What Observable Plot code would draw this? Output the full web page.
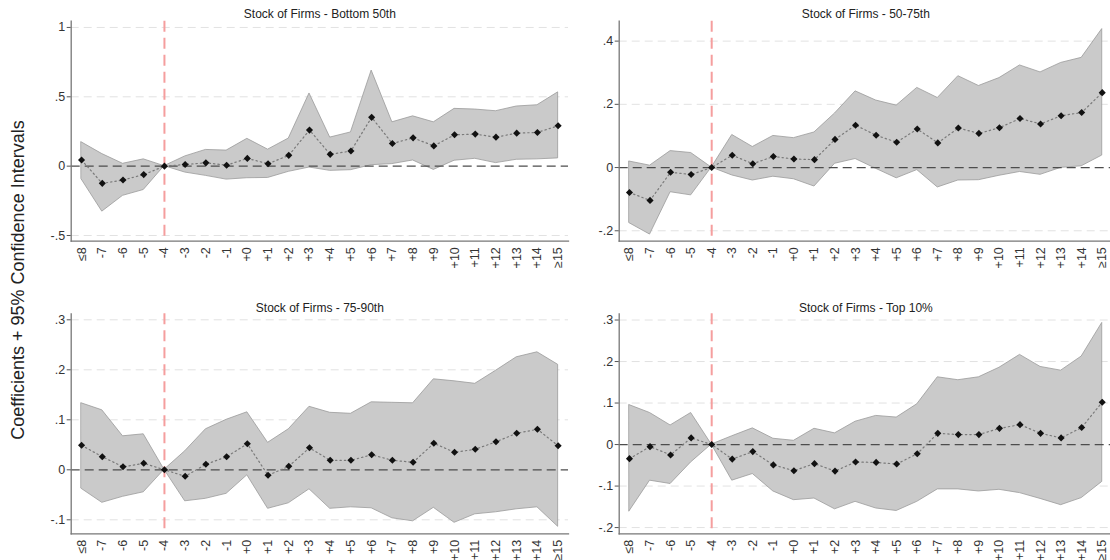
<!DOCTYPE html>
<html>
<head>
<meta charset="utf-8">
<script src="https://cdn.jsdelivr.net/npm/d3@7"></script>
<script src="https://cdn.jsdelivr.net/npm/@observablehq/plot@0.6"></script>
<style>
  html, body { margin: 0; padding: 0; background: white; overflow: hidden; width: 1110px; height: 560px; }
  .pane { position: absolute; z-index: 1; }
  .pane svg { max-width: none !important; display: block; background: transparent !important; }
  #ylab { position: absolute; z-index: 5; left: 18px; top: 280px; transform: translate(-50%, -50%) rotate(-90deg);
    white-space: nowrap; font-family: "Liberation Sans", Arial, sans-serif; font-size: 18px; color: #222; }
</style>
</head>
<body>
<div id="p1" class="pane" style="left:0px;top:0px;width:570px"></div>
<div id="p2" class="pane" style="left:555px;top:0px;width:557px"></div>
<div id="p3" class="pane" style="left:0px;top:280px;width:570px"></div>
<div id="p4" class="pane" style="left:555px;top:280px;width:557px"></div>
<div id="ylab">Coefficients + 95% Confidence Intervals</div>
<script>
const cats = ["≤8","-7","-6","-5","-4","-3","-2","-1","+0","+1","+2","+3","+4","+5","+6","+7","+8","+9","+10","+11","+12","+13","+14","≥15"];
const refCat = "-4";
const titles = ["Stock of Firms - Bottom 50th","Stock of Firms - 50-75th","Stock of Firms - 75-90th","Stock of Firms - Top 10%"];

// Panel 1: Bottom 50th
const p1Coef = [0.044,-0.124,-0.100,-0.061,0,0.012,0.024,0.007,0.056,0.017,0.078,0.260,0.085,0.109,0.352,0.163,0.204,0.146,0.226,0.231,0.209,0.238,0.243,0.291];
const p1Hi   = [0.172,0.087,0.017,0.049,0,0.070,0.117,0.112,0.197,0.119,0.199,0.524,0.206,0.243,0.689,0.316,0.359,0.316,0.413,0.408,0.396,0.430,0.439,0.532];
const p1Lo   = [-0.095,-0.328,-0.214,-0.172,0,-0.046,-0.070,-0.097,-0.087,-0.085,-0.041,-0.010,-0.034,-0.029,0.007,0.015,0.041,-0.027,0.039,0.053,0.022,0.046,0.049,0.056];
const p1Ticks = [1, 0.5, 0, -0.5];

// Panel 2: 50-75th
const p2Coef = [-0.079,-0.104,-0.015,-0.022,0,0.039,0.012,0.035,0.027,0.025,0.089,0.134,0.102,0.080,0.122,0.078,0.125,0.108,0.126,0.155,0.138,0.164,0.174,0.237];
const p2Hi   = [0.019,0.006,0.052,0.046,0,0.103,0.065,0.100,0.093,0.111,0.171,0.241,0.212,0.196,0.252,0.220,0.289,0.258,0.283,0.323,0.301,0.331,0.347,0.438];
const p2Lo   = [-0.176,-0.212,-0.078,-0.088,0,-0.025,-0.041,-0.029,-0.037,-0.060,0.012,0.027,-0.004,-0.034,-0.008,-0.063,-0.041,-0.040,-0.026,-0.014,-0.023,-0.001,0.004,0.038];
const p2Ticks = [0.4, 0.2, 0, -0.2];

// Panel 3: 75-90th
const p3Coef = [0.049,0.026,0.006,0.013,0,-0.013,0.011,0.026,0.052,-0.011,0.007,0.044,0.019,0.019,0.030,0.019,0.015,0.053,0.035,0.041,0.056,0.073,0.081,0.048];
const p3Hi   = [0.133,0.119,0.067,0.071,0,0.037,0.081,0.100,0.115,0.054,0.081,0.126,0.114,0.112,0.135,0.134,0.133,0.181,0.177,0.172,0.198,0.225,0.235,0.210];
const p3Lo   = [-0.038,-0.066,-0.054,-0.045,0,-0.063,-0.058,-0.048,-0.011,-0.078,-0.067,-0.039,-0.078,-0.075,-0.077,-0.097,-0.103,-0.076,-0.106,-0.089,-0.085,-0.079,-0.075,-0.114];
const p3Ticks = [0.3, 0.2, 0.1, 0, -0.1];

// Panel 4: Top 10%
const p4Coef = [-0.034,-0.005,-0.025,0.016,0,-0.035,-0.017,-0.049,-0.063,-0.046,-0.064,-0.042,-0.043,-0.047,-0.022,0.027,0.024,0.024,0.039,0.048,0.027,0.016,0.041,0.102];
const p4Hi   = [0.095,0.076,0.046,0.076,0,0.020,0.039,0.014,0.009,0.038,0.027,0.055,0.069,0.065,0.097,0.162,0.155,0.162,0.185,0.216,0.187,0.178,0.212,0.293];
const p4Lo   = [-0.161,-0.087,-0.095,-0.043,0,-0.087,-0.071,-0.113,-0.134,-0.130,-0.156,-0.138,-0.154,-0.160,-0.138,-0.108,-0.108,-0.113,-0.109,-0.117,-0.131,-0.146,-0.129,-0.090];
const p4Ticks = [0.3, 0.2, 0.1, 0, -0.1, -0.2];

const FONT = '"Liberation Sans", Arial, sans-serif';
const fmt = d => d === 0 ? "0" : (d < 0 ? "-" : "") + String(+Math.abs(d).toFixed(3)).replace(/^0/, "");

function panel({title, coef, lo, hi, domain, ticks, width, ml, mr, mt, mb, height, tdy}) {
  const rows = cats.map((c, i) => ({c, coef: coef[i], lo: lo[i], hi: hi[i]}));
  return Plot.plot({
    width, height, marginLeft: ml, marginRight: mr, marginTop: mt, marginBottom: mb,
    style: {fontFamily: FONT, fontSize: "12.5px", color: "#333", background: "transparent", overflow: "visible"},
    x: {type: "point", domain: cats, padding: 0.5, round: false, label: null},
    y: {domain, label: null},
    marks: [
      Plot.ruleY(ticks.filter(t => t !== 0), {stroke: "#e2e2e2", strokeDasharray: "8,5", strokeWidth: 1}),
      Plot.areaY(rows, {x: "c", y1: "lo", y2: "hi", fill: "#cacaca", stroke: "#9a9a9a", strokeWidth: 0.8}),
      Plot.ruleY([0], {stroke: "#4d4d4d", strokeDasharray: "9,5", strokeWidth: 1.3}),
      Plot.ruleX([refCat], {stroke: "#f59e9e", strokeWidth: 2, strokeDasharray: "11,6"}),
      Plot.lineY(rows, {x: "c", y: "coef", stroke: "#7a7a7a", strokeDasharray: "1.4,3", strokeWidth: 1.2}),
      Plot.dot(rows, {x: "c", y: "coef", symbol: "diamond2", r: 3.2, fill: "#111", stroke: "none"}),
      Plot.frame({anchor: "left", stroke: "#777", strokeWidth: 1.3}),
      Plot.frame({anchor: "bottom", stroke: "#777", strokeWidth: 1.3}),
      Plot.axisY({ticks, tickFormat: fmt, tickSize: 4, tickPadding: 2, stroke: "#555", fill: "#333", label: null, fontSize: 12.5}),
      Plot.axisX({tickRotate: -90, tickSize: 0, tickPadding: 6, fill: "#333", label: null, fontSize: 12.5}),
      Plot.text([title], {frameAnchor: "top", dy: tdy, lineAnchor: "middle", fontSize: 12, fill: "#222"})
    ]
  });
}

document.getElementById("p1").append(panel({title: titles[0], coef: p1Coef, lo: p1Lo, hi: p1Hi,
  domain: [-0.541, 1.045], ticks: p1Ticks, width: 570, ml: 70.7, mr: 2, mt: 20.7, mb: 29.3, height: 270, tdy: -7}));
document.getElementById("p2").append(panel({title: titles[1], coef: p2Coef, lo: p2Lo, hi: p2Hi,
  domain: [-0.233, 0.463], ticks: p2Ticks, width: 557, ml: 63.7, mr: 0, mt: 20.7, mb: 29.3, height: 270, tdy: -7}));
document.getElementById("p3").append(panel({title: titles[2], coef: p3Coef, lo: p3Lo, hi: p3Hi,
  domain: [-0.128, 0.312], ticks: p3Ticks, width: 570, ml: 70.7, mr: 2, mt: 33.3, mb: 26.7, height: 280, tdy: -6}));
document.getElementById("p4").append(panel({title: titles[3], coef: p4Coef, lo: p4Lo, hi: p4Hi,
  domain: [-0.215, 0.315], ticks: p4Ticks, width: 557, ml: 63.7, mr: 0, mt: 33.3, mb: 26.7, height: 280, tdy: -6}));
</script>
</body>
</html>
